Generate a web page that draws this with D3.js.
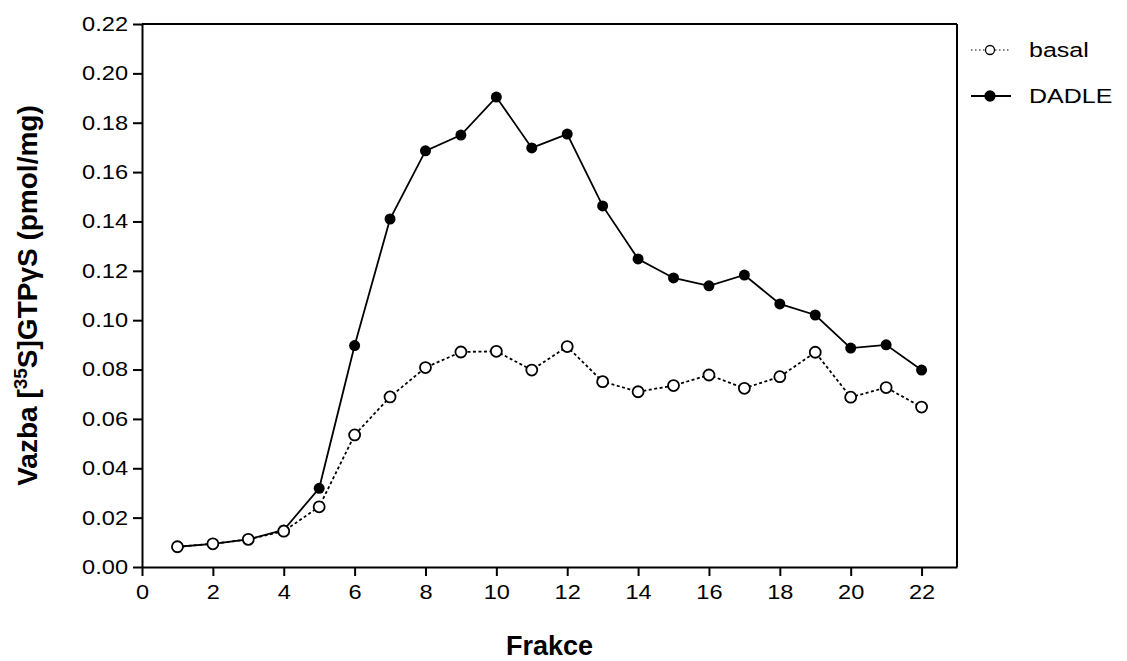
<!DOCTYPE html>
<html>
<head>
<meta charset="utf-8">
<script src="https://cdn.jsdelivr.net/npm/d3@7"></script>
<style>
  body { margin: 0; background: #fff; }
  text { font-family: "Liberation Sans", Arial, sans-serif; fill: #000; }
</style>
</head>
<body>
<div id="chart"></div>
<script>

// ======================= //
// DATA
// ======================= //

var fractions = [1,2,3,4,5,6,7,8,9,10,11,12,13,14,15,16,17,18,19,20,21,22]
var basal = [0.0082,0.0094,0.0112,0.0145,0.0244,0.0535,0.0689,0.0808,0.0871,0.0874,0.0798,0.0893,
             0.0751,0.0710,0.0735,0.0778,0.0724,0.0771,0.0870,0.0688,0.0727,0.0648]
var dadle = [0.0082,0.0094,0.0112,0.0150,0.0319,0.0897,0.1410,0.1686,0.1750,0.1904,0.1698,0.1754,
             0.1463,0.1248,0.1171,0.1139,0.1183,0.1066,0.1021,0.0887,0.0900,0.0798]
var xTicks = [0,2,4,6,8,10,12,14,16,18,20,22]
var yTicks = [0,0.02,0.04,0.06,0.08,0.10,0.12,0.14,0.16,0.18,0.20,0.22]
var seriesNames = ["basal", "DADLE"]

// ======================= //
// SVG AREA
// ======================= //

var W = 1127, H = 661
var margin = {top: 24, right: 170, bottom: 94, left: 142},
    width = W - margin.left - margin.right,
    height = H - margin.top - margin.bottom;

var svg = d3.select("#chart")
  .append("svg")
    .attr("width", W)
    .attr("height", H)

var g = svg.append("g")
    .attr("transform", "translate(" + margin.left + "," + margin.top + ")");

// tick and legend labels in the source are a bit wide
var tickStretch = 1.18
var legStretch = 1.25

// ======================= //
// AXIS AND SCALES
// ======================= //

var x = d3.scaleLinear().domain([0, 23]).range([0, width])
var y = d3.scaleLinear().domain([0, 0.22]).range([height, 0])

var xAxis = g.append("g")
  .attr("transform", "translate(0," + height + ")")
  .call(d3.axisBottom(x).tickValues(xTicks).tickSize(9).tickPadding(9).tickSizeOuter(0))
var yAxis = g.append("g")
  .call(d3.axisLeft(y).tickValues(yTicks).tickFormat(d3.format(".2f")).tickSize(9).tickPadding(5).tickSizeOuter(0))

g.selectAll(".domain, .tick line").attr("stroke", "#000").attr("stroke-width", 2)
g.selectAll(".tick text")
  .style("font-size", "20px")
  .style("font-family", "Liberation Sans, Arial, sans-serif")
xAxis.selectAll(".tick text").attr("transform", "scale(" + tickStretch + ",1)")
yAxis.selectAll(".tick text")
  .attr("x", -14 / tickStretch)
  .attr("transform", "scale(" + tickStretch + ",1)")

// box: top and right edges
g.append("line").attr("x1", 0).attr("x2", width).attr("y1", 0).attr("y2", 0)
  .attr("stroke", "#000").attr("stroke-width", 2)
g.append("line").attr("x1", width).attr("x2", width).attr("y1", 0).attr("y2", height)
  .attr("stroke", "#000").attr("stroke-width", 2)

// Axis titles
svg.append("text")
  .attr("x", margin.left + width / 2)
  .attr("y", 655)
  .attr("text-anchor", "middle")
  .style("font-size", "27px")
  .style("font-weight", "bold")
  .text("Frakce")

var yTitle = svg.append("text")
  .attr("transform", "translate(37," + (margin.top + height / 2) + ") rotate(-90)")
  .attr("text-anchor", "middle")
  .style("font-size", "28px")
  .style("font-weight", "bold")
yTitle.append("tspan").text("Vazba [")
yTitle.append("tspan").attr("dy", -10).style("font-size", "19px").text("35")
yTitle.append("tspan").attr("dy", 10).text("S]GTPγS (pmol/mg)")

// ======================= //
// LINES AND CIRCLES
// ======================= //

var line = d3.line()
  .x(function(d, i){ return x(fractions[i]) })
  .y(function(d){ return y(d) })

g.append("path")
  .datum(basal)
  .attr("d", line)
  .attr("fill", "none")
  .attr("stroke", "#000")
  .attr("stroke-width", 1.8)
  .style("stroke-dasharray", "3, 2.5")

g.append("path")
  .datum(dadle)
  .attr("d", line)
  .attr("fill", "none")
  .attr("stroke", "#000")
  .attr("stroke-width", 1.8)

g.selectAll("dadleDot")
  .data(dadle)
  .enter()
  .append("circle")
    .attr("cx", function(d, i){ return x(fractions[i]) })
    .attr("cy", function(d){ return y(d) })
    .attr("r", 5.5)
    .attr("fill", "#000")

g.selectAll("basalDot")
  .data(basal)
  .enter()
  .append("circle")
    .attr("cx", function(d, i){ return x(fractions[i]) })
    .attr("cy", function(d){ return y(d) })
    .attr("r", 5.5)
    .attr("fill", "#fff")
    .attr("stroke", "#000")
    .attr("stroke-width", 1.8)

// ======================= //
// LEGEND
// ======================= //

var legY = [50, 96]
var leg = svg.selectAll("legItem")
  .data(seriesNames)
  .enter()
  .append("g")
    .attr("transform", function(d, i){ return "translate(0," + legY[i] + ")" })

leg.append("line")
  .attr("x1", 971).attr("x2", 1011).attr("y1", 0).attr("y2", 0)
  .attr("stroke", "#000")
  .attr("stroke-width", function(d, i){ return i == 0 ? 1.2 : 1.8 })
  .style("stroke-dasharray", function(d, i){ return i == 0 ? "1.5, 2.5" : null })

leg.append("circle")
  .attr("cx", 990).attr("cy", 0).attr("r", function(d, i){ return i == 0 ? 4.5 : 5 })
  .attr("fill", function(d, i){ return i == 0 ? "#fff" : "#000" })
  .attr("stroke", "#000")
  .attr("stroke-width", 1.3)

leg.append("text")
  .attr("x", 1029 / legStretch)
  .attr("y", 7)
  .attr("transform", "scale(" + legStretch + ",1)")
  .style("font-size", "20px")
  .text(function(d){ return d })

</script>
</body>
</html>
